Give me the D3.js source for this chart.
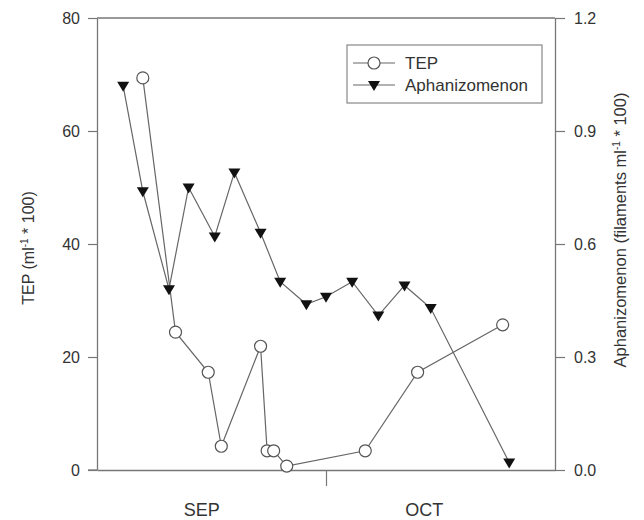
<!DOCTYPE html>
<html>
<head>
<meta charset="utf-8">
<script src="https://cdn.jsdelivr.net/npm/d3@7"></script>
<style>
  body { margin: 0; background: #fff; }
  svg text { font-family: "Liberation Sans", Arial, sans-serif; fill: #333; }
</style>
</head>
<body>
<svg id="chart" width="644" height="520"></svg>
<script>
// TEP (left axis, ml-1 * 100)
const tepDates = ['2000-09-03', '2000-09-08', '2000-09-13', '2000-09-15', '2000-09-21', '2000-09-22',
  '2000-09-23', '2000-09-25', '2000-10-07', '2000-10-15', '2000-10-28']
const tepValues = [69.4, 24.4, 17.3, 4.2, 21.9, 3.4, 3.4, 0.7, 3.4, 17.3, 25.7]

// Aphanizomenon (right axis, filaments ml-1 * 100)
const aphDates = ['2000-08-31', '2000-09-03', '2000-09-07', '2000-09-10', '2000-09-14', '2000-09-17',
  '2000-09-21', '2000-09-24', '2000-09-28', '2000-10-01', '2000-10-05', '2000-10-09',
  '2000-10-13', '2000-10-17', '2000-10-29']
const aphValues = [1.02, 0.74, 0.48, 0.75, 0.62, 0.79, 0.63, 0.50, 0.44, 0.46, 0.50, 0.41, 0.49, 0.43, 0.02]

const leftTicks = [0, 20, 40, 60, 80]
const rightTicks = [0, 0.3, 0.6, 0.9, 1.2]
const monthTicks = ['2000-10-01']
const monthLabels = [{ date: '2000-09-12', text: 'SEP' }, { date: '2000-10-16', text: 'OCT' }]
const xDomain = ['2000-08-27', '2000-11-05']

//
const parse = d3.utcParse('%Y-%m-%d')
const width = 644
const height = 520
const margin = { top: 18, right: 89, bottom: 50, left: 97 }
const innerW = width - margin.left - margin.right
const innerH = height - margin.top - margin.bottom
const axisColor = '#777'
const lineColor = '#666'

const svg = d3.select('#chart')
const g = svg.append('g').attr('transform', `translate(${margin.left},${margin.top})`)

const x = d3.scaleUtc().domain(xDomain.map(parse)).range([0, innerW])
const yL = d3.scaleLinear().domain([0, 80]).range([innerH, 0])
const yR = d3.scaleLinear().domain([0, 1.2]).range([innerH, 0])

const tep = tepDates.map((d, i) => ({ date: parse(d), value: tepValues[i] }))
const aph = aphDates.map((d, i) => ({ date: parse(d), value: aphValues[i] }))

// frame
g.append('line')
  .attr('x1', 0).attr('x2', innerW).attr('y1', 0).attr('y2', 0)
  .attr('stroke', axisColor).attr('stroke-width', 1.3)

const leftAxis = g.append('g').call(
  d3.axisLeft(yL).tickValues(leftTicks).tickSize(9).tickPadding(8).tickSizeOuter(0)
)
const rightAxis = g.append('g').attr('transform', `translate(${innerW},0)`).call(
  d3.axisRight(yR).tickValues(rightTicks).tickFormat(d3.format('.1f')).tickSize(10).tickPadding(9).tickSizeOuter(0)
)
const bottomAxis = g.append('g').attr('transform', `translate(0,${innerH})`).call(
  d3.axisBottom(x).tickValues(monthTicks.map(parse)).tickFormat('').tickSize(16).tickSizeOuter(0)
)
for (const ax of [leftAxis, rightAxis, bottomAxis]) {
  ax.select('.domain').attr('stroke', axisColor).attr('stroke-width', 1.3)
  ax.selectAll('.tick line').attr('stroke', axisColor).attr('stroke-width', 1.2)
  ax.selectAll('.tick text').attr('font-size', 16).attr('fill', '#333')
    .attr('font-family', '"Liberation Sans", Arial, sans-serif')
}
// bottom line runs a little past the left frame like the tick marks
g.append('line')
  .attr('x1', -9).attr('x2', 0).attr('y1', innerH).attr('y2', innerH)
  .attr('stroke', axisColor).attr('stroke-width', 1.3)

g.selectAll('.month')
  .data(monthLabels)
  .join('text')
  .attr('class', 'month')
  .attr('x', d => x(parse(d.date)))
  .attr('y', innerH + 46)
  .attr('text-anchor', 'middle')
  .attr('font-size', 18)
  .text(d => d.text)

// axis titles
const leftTitle = svg.append('text')
  .attr('transform', `translate(34,${margin.top + innerH / 2 + 4}) rotate(-90)`)
  .attr('text-anchor', 'middle')
  .attr('font-size', 16)
leftTitle.append('tspan').text('TEP (ml')
leftTitle.append('tspan').attr('dy', -6).attr('font-size', 10).text('-1')
leftTitle.append('tspan').attr('dy', 6).text(' * 100)')

const rightTitle = svg.append('text')
  .attr('transform', `translate(626,${margin.top + innerH / 2 - 14}) rotate(-90)`)
  .attr('text-anchor', 'middle')
  .attr('font-size', 16.5)
rightTitle.append('tspan').text('Aphanizomenon (filaments ml')
rightTitle.append('tspan').attr('dy', -6).attr('font-size', 10).text('-1')
rightTitle.append('tspan').attr('dy', 6).text(' * 100)')

// lines
const lineL = d3.line().x(d => x(d.date)).y(d => yL(d.value))
const lineR = d3.line().x(d => x(d.date)).y(d => yR(d.value))

g.append('path').attr('d', lineR(aph))
  .attr('fill', 'none').attr('stroke', lineColor).attr('stroke-width', 1.2)
g.append('path').attr('d', lineL(tep))
  .attr('fill', 'none').attr('stroke', lineColor).attr('stroke-width', 1.2)

const tri = 'M-6,-4L6,-4L0,6Z'

g.selectAll('.aph')
  .data(aph)
  .join('path')
  .attr('class', 'aph')
  .attr('transform', d => `translate(${x(d.date)},${yR(d.value)})`)
  .attr('d', tri)
  .attr('fill', '#111')

g.selectAll('.tep')
  .data(tep)
  .join('circle')
  .attr('class', 'tep')
  .attr('cx', d => x(d.date))
  .attr('cy', d => yL(d.value))
  .attr('r', 6)
  .attr('fill', '#fff')
  .attr('stroke', '#555')
  .attr('stroke-width', 1.2)

// legend
const legend = svg.append('g').attr('transform', 'translate(347,45)')
legend.append('rect')
  .attr('width', 195).attr('height', 58)
  .attr('fill', '#fff').attr('stroke', '#888').attr('stroke-width', 1.2)
const legendItems = [{ name: 'TEP', type: 'circle', y: 18 }, { name: 'Aphanizomenon', type: 'tri', y: 40 }]
const li = legend.selectAll('.li').data(legendItems).join('g')
  .attr('class', 'li').attr('transform', d => `translate(0,${d.y})`)
li.append('line').attr('x1', 6).attr('x2', 48)
  .attr('stroke', lineColor).attr('stroke-width', 1.2)
li.filter(d => d.type === 'circle').append('circle')
  .attr('cx', 27).attr('r', 6).attr('fill', '#fff').attr('stroke', '#555').attr('stroke-width', 1.2)
li.filter(d => d.type === 'tri').append('path')
  .attr('transform', 'translate(27,0)').attr('d', tri).attr('fill', '#111')
li.append('text').attr('x', 58).attr('dy', '0.35em').attr('font-size', 17).text(d => d.name)
</script>
</body>
</html>
